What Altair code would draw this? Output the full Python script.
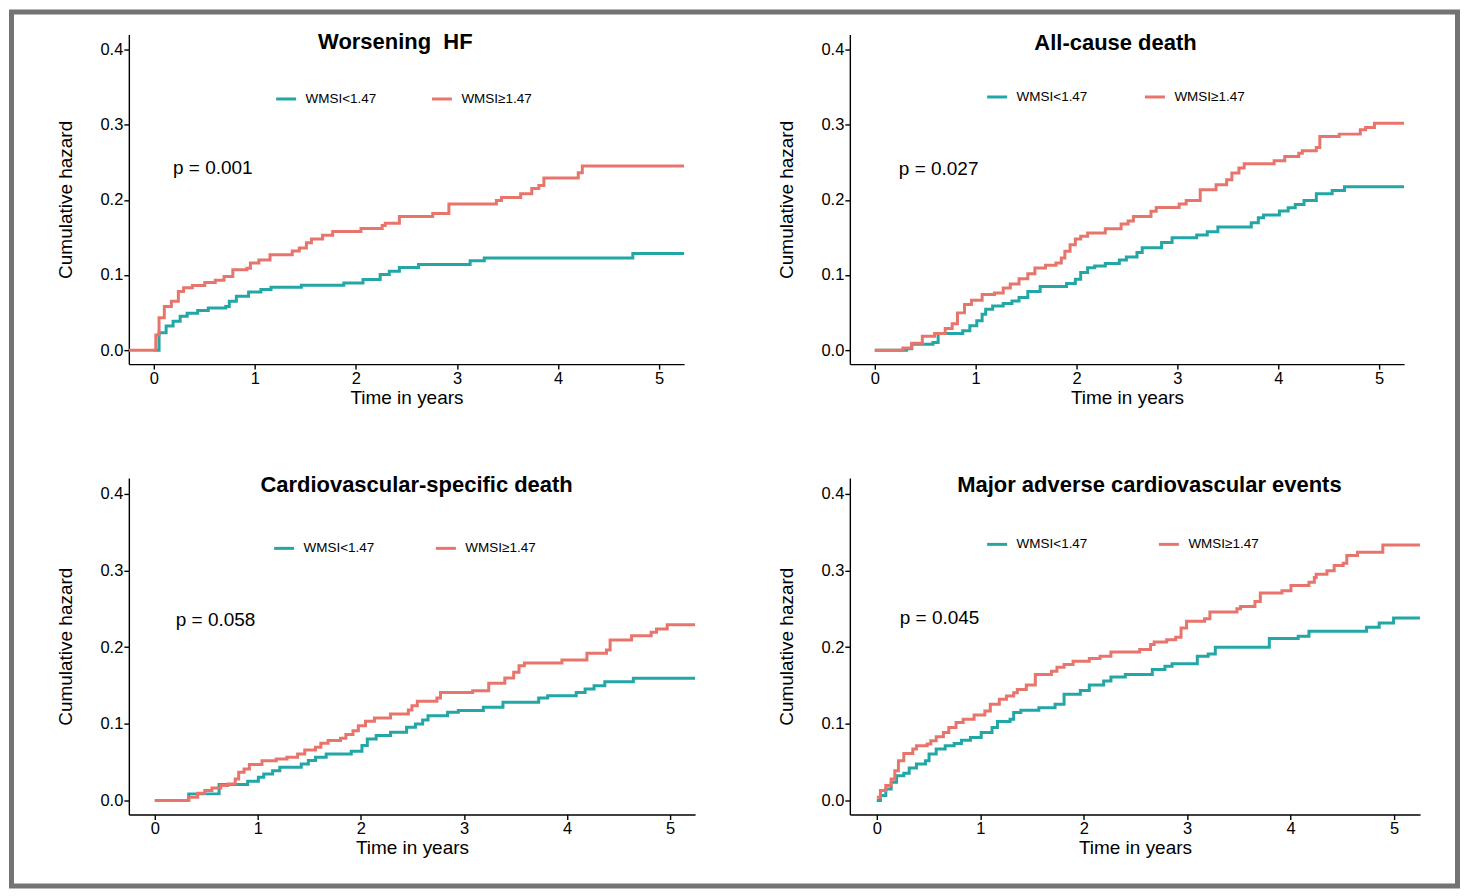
import altair as alt
import pandas as pd

FONT = "Liberation Sans"
TEAL = "#22A7A6"
SALMON = "#E8756C"
GROUPS = ["WMSI<1.47", "WMSI\u22651.47"]
X_TICKS = [0, 1, 2, 3, 4, 5]
Y_TICKS = [0.0, 0.1, 0.2, 0.3, 0.4]

# ---------------- Panel 1: Worsening HF ----------------
p1_title = "Worsening\u00a0 HF"
p1_pval = "p = 0.001"
p1_teal_t = [0, 0.052, 0.122, 0.191, 0.261, 0.330, 0.434, 0.539, 0.712, 0.747, 0.817, 0.938,
             1.06, 1.16, 1.46, 1.88, 2.07, 2.24, 2.33, 2.43, 2.62, 3.13, 3.27, 4.74, 5.25]
p1_teal_v = [0, 0.023, 0.032, 0.0385, 0.045, 0.049, 0.0527, 0.056, 0.058, 0.065, 0.0718, 0.0775,
             0.0806, 0.0837, 0.0864, 0.0895, 0.094, 0.1006, 0.105, 0.110, 0.114, 0.1191, 0.1227, 0.1285, 0.1285]
p1_sal_t = [-0.25, 0, 0.02, 0.052, 0.104, 0.174, 0.243, 0.295, 0.382, 0.504, 0.608, 0.695, 0.782,
            0.921, 0.956, 1.04, 1.15, 1.37, 1.44, 1.51, 1.56, 1.67, 1.77, 2.05, 2.26, 2.29, 2.43,
            2.76, 2.92, 3.39, 3.44, 3.63, 3.74, 3.81, 3.86, 4.20, 4.24, 5.25]
p1_sal_v = [0, 0, 0.02, 0.043, 0.058, 0.065, 0.078, 0.083, 0.086, 0.090, 0.093, 0.098, 0.107,
            0.109, 0.116, 0.120, 0.127, 0.132, 0.136, 0.143, 0.148, 0.153, 0.158, 0.162, 0.166, 0.169, 0.178,
            0.182, 0.1945, 0.199, 0.203, 0.208, 0.215, 0.219, 0.229, 0.236, 0.245, 0.245]

# ---------------- Panel 2: All-cause death ----------------
p2_title = "All-cause death"
p2_pval = "p = 0.027"
p2_teal_t = [0, 0.296, 0.314, 0.366, 0.576, 0.628, 0.872, 0.942, 1.011, 1.064, 1.099, 1.168, 1.273,
             1.360, 1.430, 1.517, 1.639, 1.901, 1.988, 2.041, 2.110, 2.180, 2.285, 2.424, 2.494, 2.599,
             2.651, 2.843, 2.947, 3.191, 3.296, 3.401, 3.732, 3.802, 3.854, 4.011, 4.098, 4.168, 4.255,
             4.377, 4.534, 4.656, 5.25]
p2_teal_v = [0, 0, 0.002, 0.008, 0.0102, 0.0221, 0.0257, 0.0323, 0.039, 0.0478, 0.0545, 0.0589, 0.062,
             0.0655, 0.0699, 0.0779, 0.0846, 0.0886, 0.0943, 0.1032, 0.1098, 0.1121, 0.1152, 0.1201, 0.124, 0.1298,
             0.1364, 0.1431, 0.1497, 0.1533, 0.1577, 0.1639, 0.1696, 0.1763, 0.1798, 0.1851, 0.1895, 0.194, 0.1993,
             0.2081, 0.2125, 0.2174, 0.2174]
p2_sal_t = [0, 0.262, 0.279, 0.366, 0.471, 0.593, 0.698, 0.767, 0.820, 0.889, 0.959, 1.064, 1.186,
            1.273, 1.343, 1.430, 1.517, 1.587, 1.692, 1.796, 1.849, 1.884, 1.936, 1.988, 2.041, 2.110,
            2.285, 2.442, 2.511, 2.564, 2.738, 2.790, 3.017, 3.087, 3.226, 3.383, 3.488, 3.540, 3.610,
            3.662, 3.959, 4.064, 4.203, 4.238, 4.377, 4.412, 4.604, 4.813, 4.866, 4.953, 5.25]
p2_sal_v = [0, 0, 0.003, 0.0093, 0.0186, 0.0221, 0.0288, 0.035, 0.0496, 0.0606, 0.0664, 0.0739, 0.0761,
            0.0828, 0.0881, 0.095, 0.1018, 0.1094, 0.1129, 0.116, 0.1227, 0.1315, 0.1404, 0.148, 0.1515, 0.156,
            0.1616, 0.168, 0.172, 0.178, 0.1847, 0.19, 0.1945, 0.199, 0.2135, 0.2201, 0.2268, 0.2356, 0.2423,
            0.248, 0.252, 0.2578, 0.2622, 0.2654, 0.2698, 0.2844, 0.2875, 0.2933, 0.2964, 0.3021, 0.3021]

# ---------------- Panel 3: Cardiovascular-specific death ----------------
p3_title = "Cardiovascular-specific death"
p3_pval = "p = 0.058"
p3_teal_t = [0, 0.329, 0.624, 0.901, 1.005, 1.057, 1.143, 1.213, 1.421, 1.490, 1.559, 1.663, 1.906,
             2.010, 2.062, 2.148, 2.287, 2.443, 2.529, 2.599, 2.651, 2.841, 2.945, 3.188, 3.378, 3.725,
             3.812, 4.089, 4.175, 4.262, 4.366, 4.643, 5.25]
p3_teal_v = [0, 0.0087, 0.0208, 0.0252, 0.0304, 0.0347, 0.039, 0.0434, 0.0477, 0.0521, 0.0564, 0.0608, 0.0643,
             0.0717, 0.0803, 0.0847, 0.089, 0.0955, 0.0999, 0.1051, 0.1107, 0.1151, 0.1173, 0.1216, 0.1281, 0.1337,
             0.1368, 0.1411, 0.1455, 0.1498, 0.155, 0.1594, 0.1594]
p3_sal_t = [0, 0.295, 0.329, 0.416, 0.485, 0.554, 0.641, 0.710, 0.780, 0.814, 0.866, 0.918, 1.040, 1.178,
            1.282, 1.386, 1.455, 1.559, 1.611, 1.681, 1.802, 1.854, 1.923, 1.975, 2.044, 2.131, 2.287,
            2.460, 2.495, 2.547, 2.737, 2.772, 3.084, 3.240, 3.396, 3.482, 3.534, 3.586, 3.950, 4.193,
            4.383, 4.418, 4.626, 4.816, 4.868, 4.972, 5.25]
p3_sal_v = [0, 0, 0.0043, 0.0095, 0.013, 0.0165, 0.0195, 0.0217, 0.0282, 0.0369, 0.0412, 0.0469, 0.052, 0.0543,
            0.0564, 0.0608, 0.066, 0.0695, 0.0747, 0.0782, 0.0812, 0.086, 0.0912, 0.0977, 0.1033, 0.1077, 0.1129,
            0.1181, 0.1238, 0.1294, 0.1337, 0.1411, 0.1433, 0.1529, 0.1598, 0.1672, 0.1759, 0.1794, 0.1833, 0.192,
            0.1963, 0.2094, 0.215, 0.2194, 0.2237, 0.2294, 0.2294]

# ---------------- Panel 4: Major adverse cardiovascular events ----------------
p4_title = "Major adverse cardiovascular events"
p4_pval = "p = 0.045"
p4_teal_t = [0, 0.035, 0.087, 0.139, 0.191, 0.261, 0.313, 0.383, 0.470, 0.505, 0.574, 0.661, 0.748,
             0.818, 0.905, 1.009, 1.114, 1.166, 1.288, 1.323, 1.392, 1.566, 1.723, 1.810, 1.967, 2.054,
             2.193, 2.263, 2.402, 2.663, 2.785, 2.854, 3.098, 3.203, 3.272, 3.794, 4.073, 4.177, 4.734,
             4.856, 4.995, 5.25]
p4_teal_v = [0, 0.0065, 0.0151, 0.0238, 0.0325, 0.0355, 0.0424, 0.0476, 0.0519, 0.0606, 0.0671, 0.0714, 0.0745,
             0.0788, 0.0823, 0.0887, 0.0952, 0.103, 0.106, 0.1147, 0.1177, 0.1212, 0.1255, 0.1385, 0.1437, 0.1506,
             0.1558, 0.161, 0.1645, 0.171, 0.1753, 0.1784, 0.1883, 0.1913, 0.2, 0.2113, 0.2143, 0.2208, 0.226,
             0.2316, 0.2381, 0.2381]
p4_sal_t = [0, 0.035, 0.087, 0.139, 0.174, 0.209, 0.261, 0.348, 0.383, 0.487, 0.522, 0.574, 0.644, 0.696,
            0.766, 0.835, 0.940, 1.044, 1.097, 1.184, 1.253, 1.323, 1.358, 1.445, 1.532, 1.688, 1.741,
            1.810, 1.897, 2.054, 2.158, 2.263, 2.541, 2.646, 2.681, 2.802, 2.889, 2.941, 2.994, 3.168,
            3.220, 3.481, 3.516, 3.655, 3.707, 3.916, 4.003, 4.177, 4.229, 4.247, 4.351, 4.421, 4.508,
            4.543, 4.647, 4.891, 5.25]
p4_sal_v = [0.0043, 0.013, 0.0195, 0.028, 0.039, 0.052, 0.0615, 0.0671, 0.0714, 0.0736, 0.0779, 0.0831, 0.0887, 0.0952,
            0.1017, 0.106, 0.1117, 0.1169, 0.1255, 0.132, 0.1364, 0.1407, 0.145, 0.1506, 0.1645, 0.1688, 0.174,
            0.1775, 0.1818, 0.1853, 0.1883, 0.1939, 0.197, 0.2035, 0.2069, 0.2099, 0.213, 0.2251, 0.2338, 0.2372,
            0.2459, 0.2502, 0.2532, 0.2597, 0.2706, 0.2736, 0.2805, 0.2849, 0.2909, 0.2952, 0.2996, 0.3065, 0.3095,
            0.3195, 0.3238, 0.3333, 0.3333]


def panel(title, title_t, title_v, pval, pval_t, pval_v,
          teal_t, teal_v, sal_t, sal_v, xdom, ydom, w, h,
          leg_x, leg_y, colpad, frame=False):
    df = pd.DataFrame({
        "t": teal_t + sal_t,
        "v": teal_v + sal_v,
        "g": [GROUPS[0]] * len(teal_t) + [GROUPS[1]] * len(sal_t),
    })
    x = alt.X("t:Q", title="Time in years",
              scale=alt.Scale(domain=xdom, nice=False, zero=False),
              axis=alt.Axis(values=X_TICKS, format="d"))
    y = alt.Y("v:Q", title="Cumulative hazard",
              scale=alt.Scale(domain=ydom, nice=False, zero=False),
              axis=alt.Axis(values=Y_TICKS, format=".1f"))
    color = alt.Color("g:N", title=None,
                      scale=alt.Scale(domain=GROUPS, range=[TEAL, SALMON]),
                      legend=alt.Legend(orient="none", legendX=leg_x, legendY=leg_y,
                                        direction="horizontal", columnPadding=colpad))
    lines = alt.Chart(df).mark_line(interpolate="step-after", strokeWidth=3, clip=True).encode(
        x=x, y=y, color=color)
    tdf = pd.DataFrame({"t": [title_t], "v": [title_v], "label": [title]})
    ttl = alt.Chart(tdf).mark_text(font=FONT, fontSize=22, fontWeight="bold", color="black",
                                   align="center", baseline="middle").encode(x=x, y=y, text="label:N")
    pdf = pd.DataFrame({"t": [pval_t], "v": [pval_v], "label": [pval]})
    ptxt = alt.Chart(pdf).mark_text(font=FONT, fontSize=19, color="black",
                                    align="left", baseline="middle").encode(x=x, y=y, text="label:N")
    layers = [lines, ttl, ptxt]
    if frame:
        fr = alt.Chart(pd.DataFrame({"a": [0]})).mark_rect(
            fill="transparent", stroke="#747272", strokeWidth=5).encode(
            x=alt.value(-117.5), x2=alt.value(1330.5), y=alt.value(-22.5), y2=alt.value(852.5))
        layers.append(fr)
    return alt.layer(*layers).properties(width=w, height=h)


c1 = panel(p1_title, 2.39, 0.4106, p1_pval, 0.19, 0.243,
           p1_teal_t, p1_teal_v, p1_sal_t, p1_sal_v,
           [-0.247, 5.247], [-0.0186, 0.42], 556, 330, 146, 53, 49, frame=True)
c2 = panel(p2_title, 2.386, 0.409, p2_pval, 0.238, 0.2405,
           p2_teal_t, p2_teal_v, p2_sal_t, p2_sal_v,
           [-0.2475, 5.247], [-0.0186, 0.42], 555, 330, 136, 51, 51)
c3 = panel(p3_title, 2.54, 0.4117, p3_pval, 0.203, 0.2358,
           p3_teal_t, p3_teal_v, p3_sal_t, p3_sal_v,
           [-0.252, 5.242], [-0.0182, 0.4208], 567, 337, 144, 59, 55)
c4 = panel(p4_title, 2.635, 0.4117, p4_pval, 0.222, 0.2377,
           p4_teal_t, p4_teal_v, p4_sal_t, p4_sal_v,
           [-0.2606, 5.251], [-0.0182, 0.4208], 571, 337, 136, 55, 65)

chart = alt.concat(c1, c2, c3, c4, columns=2, spacing={"row": 114, "column": 155},
                   bounds="flush").resolve_scale(
    color="independent", x="independent", y="independent"
).resolve_legend(color="independent").properties(
    padding=0, background="white"
).configure_view(stroke="transparent").configure_axis(
    grid=False, domainColor="black", domainWidth=1.4, tickColor="black", tickWidth=1.4,
    tickSize=5, labelColor="black", labelFont=FONT, labelFontSize=16.5, labelPadding=1,
    titleFont=FONT, titleFontSize=19, titleFontWeight="normal", titleColor="black"
).configure_axisX(titlePadding=2).configure_axisY(titlePadding=24).configure_legend(
    labelFont=FONT, labelFontSize=13.5, labelColor="black", symbolType="stroke",
    symbolStrokeWidth=3, symbolSize=400, labelOffset=8, padding=0
)

chart.save("out.html", embed_options={"renderer": "svg", "actions": False})
